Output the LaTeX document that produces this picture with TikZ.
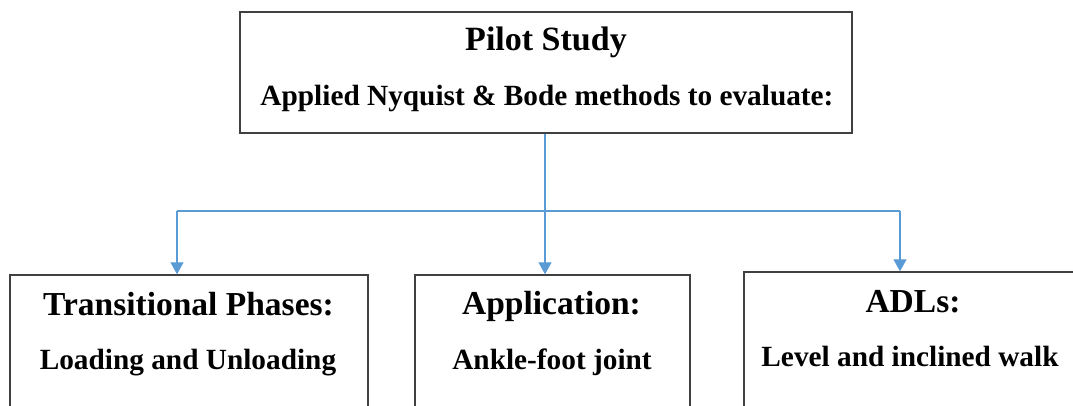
\documentclass[tikz,border=0pt]{standalone}
\usepackage{fontspec}
\setmainfont{Liberation Serif}
\usetikzlibrary{arrows.meta}
\definecolor{linkblue}{HTML}{5B9BD5}
\definecolor{boxgray}{HTML}{404040}
\tikzset{
  box/.style={draw=boxgray, line width=1.4pt, inner sep=0pt, fill=none},
  ttl/.style={anchor=base, inner sep=0pt, font=\bfseries\fontsize{33.5}{38}\selectfont},
  sub/.style={anchor=base, inner sep=0pt, font=\bfseries\fontsize{29.3}{34}\selectfont},
  ttltop/.style={anchor=base, inner sep=0pt, font=\bfseries\fontsize{34}{40}\selectfont},
  link/.style={draw=linkblue, line width=1.3pt},
  linkarrow/.style={link, -{Triangle[width=13pt, length=12pt]}}
}
\begin{document}
\begin{tikzpicture}[x=1pt, y=-1pt]
\useasboundingbox (0,0) rectangle (1073,406);
\clip (0,0) rectangle (1073,406);
% boxes
\node[box, minimum width=612pt, minimum height=121pt] (top) at (546,72.5) {};
\node[box, minimum width=358pt, minimum height=145pt] (lft) at (189,347.5) {};
\node[box, minimum width=275pt, minimum height=145pt] (mid) at (552.5,347.5) {};
\node[box, minimum width=334pt, minimum height=148pt] (rgt) at (911,346) {};
% texts
\node[ttltop] (t1) at (546,51) {Pilot Study};
\node[sub] (t2) at (547,106) {Applied Nyquist \& Bode methods to evaluate:};
\node[ttl] (l1) at (188.5,315) {Transitional Phases:};
\node[sub] (l2) at (188,369) {Loading and Unloading};
\node[ttl] (m1) at (551.5,314) {Application:};
\node[sub] (m2) at (552,369) {Ankle-foot joint};
\node[ttl] (r1) at (913,312) {ADLs:};
\node[sub] (r2) at (910,366) {Level and inclined walk};
% connectors
\coordinate (jn) at (545,211);
\coordinate (jl) at (177,211);
\coordinate (jr) at (900,211);
\draw[link] (top.south -| jn) -- (jn);
\draw[link] (jl) -- (jr);
\draw[linkarrow] (jl) -- (jl |- lft.north);
\draw[linkarrow] (jn) -- (jn |- mid.north);
\draw[linkarrow] (jr) -- (jr |- rgt.north);
\end{tikzpicture}
\end{document}
